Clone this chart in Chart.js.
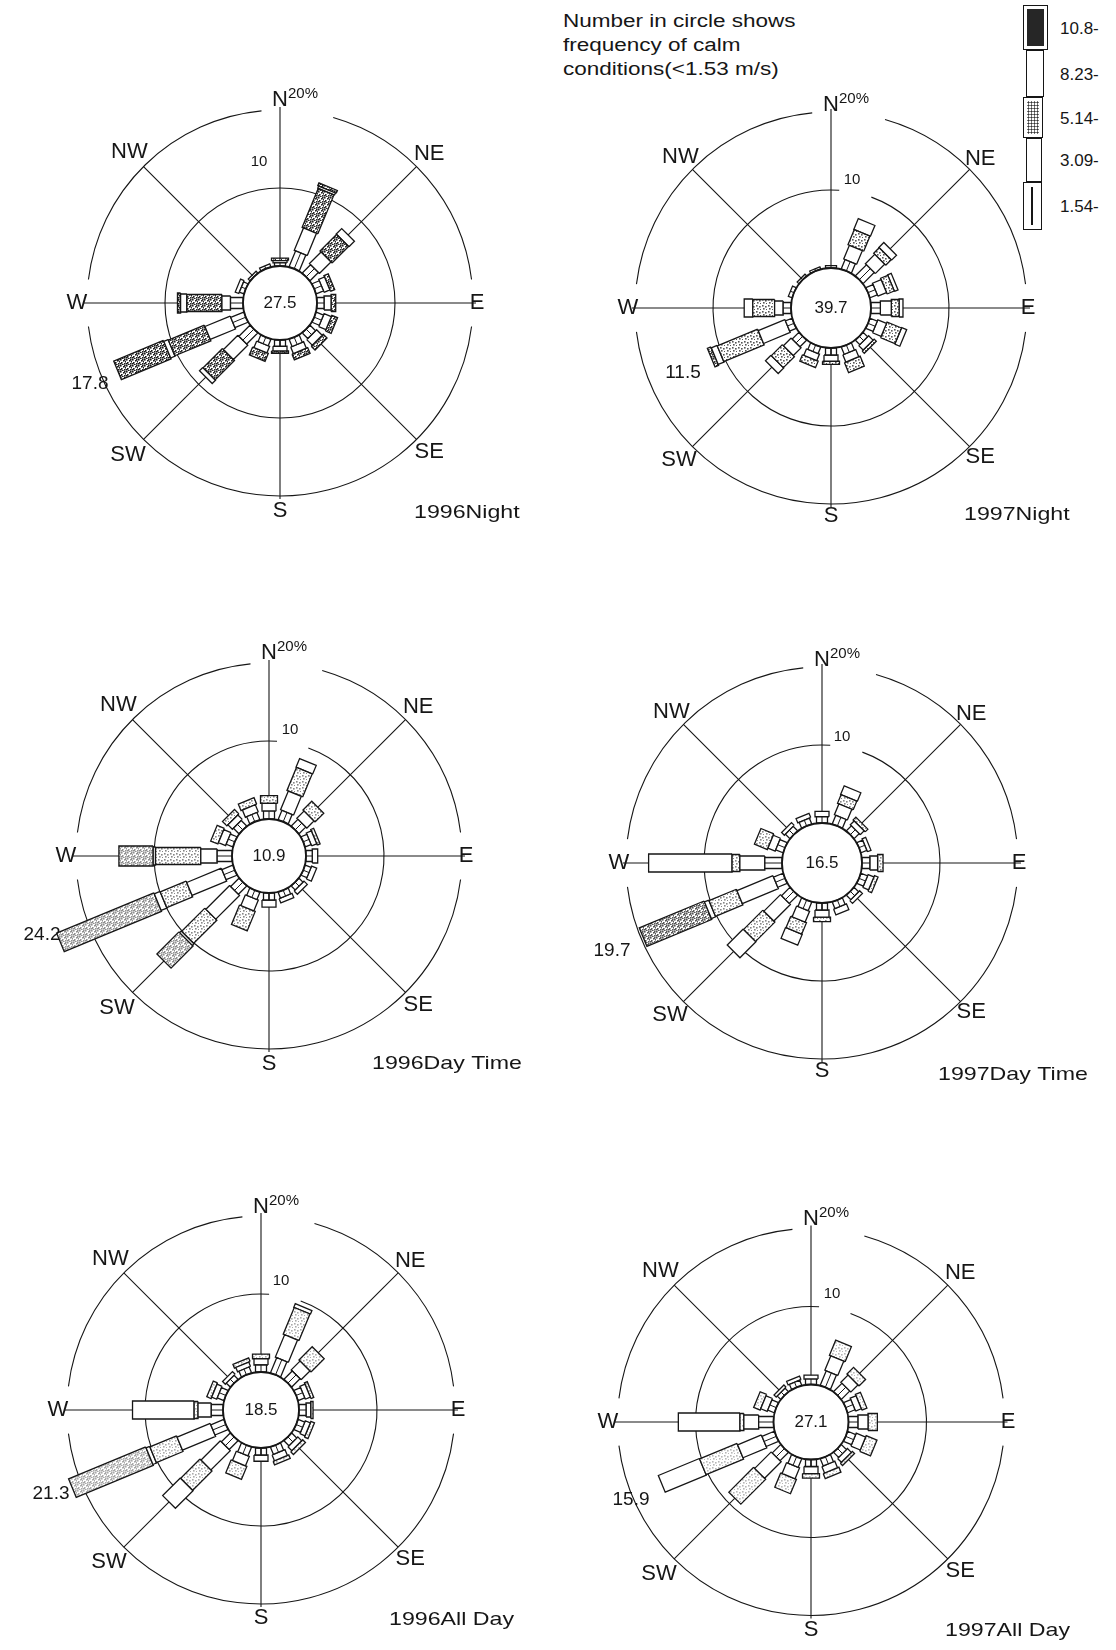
<!DOCTYPE html>
<html>
<head>
<meta charset="utf-8">
<script src="https://cdn.jsdelivr.net/npm/chart.js@4.4.0/dist/chart.umd.min.js"></script>
<style>
  body { margin: 0; width: 1116px; height: 1650px; overflow: hidden; background: #fff; position: relative;
         font-family: "Liberation Sans", Arial, sans-serif; color: #161616; }
  canvas.rose { position: absolute; }
  #note { position: absolute; left: 563px; top: 9px; font-size: 18px; line-height: 24px;
          transform: scaleX(1.25); transform-origin: 0 0; white-space: nowrap; }
  .lgbox { position: absolute; border: 1.5px solid #161616; box-sizing: border-box; background: #fff; }
  .lgtext { position: absolute; left: 1060px; font-size: 17px; line-height: 17px; }
</style>
</head>
<body>
<div id="note">Number in circle shows<br>frequency of calm<br>conditions(&lt;1.53 m/s)</div>
<div id="legend"></div>
<canvas class="rose" id="r0" width="560" height="560"></canvas>
<canvas class="rose" id="r1" width="560" height="560"></canvas>
<canvas class="rose" id="r2" width="560" height="560"></canvas>
<canvas class="rose" id="r3" width="560" height="560"></canvas>
<canvas class="rose" id="r4" width="560" height="560"></canvas>
<canvas class="rose" id="r5" width="560" height="560"></canvas>
<script>
// ---- data ----
var directions = ["N","NNE","NE","ENE","E","ESE","SE","SSE","S","SSW","SW","WSW","W","WNW","NW","NNW"];
var speedClasses = ["1.54-", "3.09-", "5.14-", "8.23-", "10.8-"];
var roseTitles = ["1996Night", "1997Night", "1996Day Time", "1997Day Time", "1996All Day", "1997All Day"];
var calmFreq = [27.5, 39.7, 10.9, 16.5, 18.5, 27.1];
var ringValues = [10, 20];
var compassLabels = ["N", "NE", "E", "SE", "S", "SW", "W", "NW"];

// frequency (%) by direction, columns = speed classes 1.54- .. 10.8-
var night1996 = [
  [0.4,0.3,0.3,0,0], [2.2,3.1,5.4,0.3,0.4], [1.5,2.1,3.0,1.0,0], [1.0,0.8,0.6,0,0],
  [0.9,0.9,0.6,0,0], [1.0,1.0,0.8,0,0], [1.0,1.0,0.7,0,0], [1.0,0.9,0.8,0,0],
  [0.8,0.6,0.3,0,0], [0.9,0.9,1.1,0,0], [2.0,2.6,3.5,0.6,0], [1.8,3.5,5.0,0.6,6.9],
  [1.6,1.1,4.5,0.8,0.4], [0.6,0.5,0,0,0], [0.3,0,0,0,0], [0.4,0,0,0,0]
];
var night1997 = [
  [0.3,0,0,0,0], [1.3,1.9,2.1,1.5,0], [2.0,1.7,1.0,0.9,0], [1.0,1.2,1.0,0.5,0],
  [1.2,1.4,1.0,0.5,0], [1.0,1.2,2.0,0.7,0], [0.8,0.8,0.4,0,0], [1.0,1.0,1.4,0,0],
  [0.9,0.8,0.4,0,0], [0.9,0.9,0.9,0,0], [1.2,1.4,2.0,1.0,0], [0.9,3.7,5.6,0.8,0.5],
  [1.0,1.1,2.8,1.1,0], [0.5,0,0,0,0], [0.3,0,0,0,0], [0.3,0,0,0,0]
];
var day1996 = [
  [1.0,1.0,1.0,0,0], [1.3,2.6,3.2,1.2,0], [1.2,1.3,1.6,0,0], [0.8,0.7,0.4,0,0],
  [0.8,0.7,0,0,0], [0.8,0.7,0,0,0], [0.7,0.6,0,0,0], [0.8,0.6,0,0,0],
  [0.9,0.9,0,0,0], [1.0,1.5,2.7,0,0], [1.5,4.3,4.2,0.3,4.0], [1.5,4.8,3.6,0.8,13.5],
  [1.9,2.1,5.8,0.3,4.4], [0.9,1.0,1.0,0,0], [1.0,0.8,0.8,0,0], [1.0,1.0,0.9,0,0]
];
var day1997 = [
  [0.8,0.7,0,0,0], [1.2,1.5,1.2,1.2,0], [0.9,0.7,0.5,0,0], [0.8,0.5,0,0,0],
  [1.0,1.0,0.7,0,0], [0.9,0.8,0.5,0,0], [0.8,0.5,0,0,0], [0.9,0.8,0,0,0],
  [0.9,0.9,0.6,0,0], [1.2,1.5,1.6,1.5,0], [1.5,3.0,3.5,2.9,0], [1.3,5.0,3.8,0.6,9.0],
  [2.2,3.2,1.0,10.7,0], [1.0,1.0,1.8,0,0], [0.8,0.5,0,0,0], [0.8,0.6,0,0,0]
];
var allDay1996 = [
  [0.9,0.8,0.6,0,0], [2.1,3.1,3.7,0.5,0], [1.5,1.6,2.4,0,0], [0.9,0.7,0.4,0,0],
  [0.9,0.6,0.3,0,0], [0.9,0.7,0.5,0,0], [0.9,0.7,0.5,0,0], [1.0,0.8,0.5,0,0],
  [0.9,0.8,0,0,0], [1.2,1.3,1.8,0,0], [1.6,3.5,3.5,3.2,0], [1.8,4.6,3.7,0.5,10.7],
  [1.5,1.7,0.5,7.9,0], [0.9,0.7,0.6,0,0], [0.7,0.5,0,0,0], [0.8,0.6,0.5,0,0]
];
var allDay1997 = [
  [0.7,0.5,0,0,0], [2.0,2.0,2.1,0,0], [1.5,1.3,1.2,0,0], [1.0,0.8,0.7,0,0],
  [1.2,1.3,1.2,0,0], [1.1,1.3,1.5,0,0], [0.9,0.7,0.4,0,0], [1.0,0.9,0.7,0,0],
  [0.9,0.9,0.6,0,0], [1.2,1.5,2.0,0,0], [1.5,3.0,4.5,0,0], [1.7,3.3,5.2,5.7,0],
  [1.9,1.9,0.5,7.9,0], [0.9,0.9,0.9,0,0], [0.6,0.4,0,0,0], [0.7,0.5,0,0,0]
];
var roseData = [night1996, night1997, day1996, day1997, allDay1996, allDay1997];

// ---- layout / style ----
var INK = '#161616';
var FONT = '"Liberation Sans", Arial, sans-serif';
var PX_PER_PCT = 7.8;
var HALF = 280;
var roseCenters = [[280,303],[831,308],[269,856],[822,863],[261,1410],[811,1422]];
var calmRadiusPx = [37,40,37,40,38,37.5];
var classWidthPx = [11,14,17,18,20];
var labelRadius = [203,211,197,211,208,215,203,213];
var tenPos = [[-21,-141],[21,-128],[21,-126],[20,-126],[20,-129],[21,-128]];
var peakPos = [[-190,81],[-148,65],[-227,79],[-210,88],[-210,84],[-180,78]];
var titlePos = [[134,210],[133,207],[103,208],[116,212],[128,210],[134,209]];
var TITLE_STRETCH = 1.22;
var innerGaps = [[], [[4,20]], [[4,20]], [[4,20]], [[4,20]], [[4,20]]];
var outerGaps = [[-5.5,16],[83,97],[263,277]];
var ink3 = [0.9,0.7,0.5,0.5,0.35,0.3];
var dense3 = [true,false,false,false,false,false];
var ink5 = [0.95,0.85,0.45,0.7,0.35,0.3];

function stipple(ink, dense) {
  var c = document.createElement('canvas');
  c.width = 6; c.height = 6;
  var x = c.getContext('2d');
  x.fillStyle = '#fff'; x.fillRect(0, 0, 6, 6);
  x.fillStyle = 'rgba(15,15,15,' + ink + ')';
  var dots = dense ? [[0,0],[3,1],[1,3],[4,4],[2,5],[5,2],[0,4],[4,0]] : [[1,1],[4,2],[2,4],[5,5]];
  dots.forEach(function (d) { x.fillRect(d[0], d[1], 1.6, 1.6); });
  return x.createPattern(c, 'repeat');
}

function rectangle(deg, a, b, h) {
  var t = deg * Math.PI / 180, s = Math.sin(t), c = Math.cos(t);
  return [
    {x: a*s + h*c, y: a*c - h*s}, {x: b*s + h*c, y: b*c - h*s},
    {x: b*s - h*c, y: b*c + h*s}, {x: a*s - h*c, y: a*c + h*s},
    {x: a*s + h*c, y: a*c - h*s}, {x: null, y: null}
  ];
}

function barDatasets(ri) {
  var rows = roseData[ri];
  var base = calmRadiusPx[ri] / PX_PER_PCT;
  var sets = [];
  for (var j = 0; j < speedClasses.length; j++) {
    var pts = [];
    var h = classWidthPx[j] / 2 / PX_PER_PCT;
    rows.forEach(function (row, i) {
      if (!row[j]) return;
      var a = base;
      for (var m = 0; m < j; m++) a += row[m];
      pts = pts.concat(rectangle(i * 22.5, a, a + row[j], h));
    });
    var bg = '#fff';
    if (j === 2) bg = stipple(ink3[ri], dense3[ri]);
    if (j === 4) bg = stipple(ink5[ri], true);
    sets.push({ label: speedClasses[j], data: pts, showLine: true, fill: 'shape',
      backgroundColor: bg, borderColor: INK, borderWidth: 1.3, pointRadius: 0, tension: 0 });
  }
  // centre line of the lowest speed class
  var line = [];
  rows.forEach(function (row, i) {
    if (!row[0]) return;
    var t = i * 22.5 * Math.PI / 180, s = Math.sin(t), c = Math.cos(t);
    line.push({x: base*s, y: base*c}, {x: (base+row[0])*s, y: (base+row[0])*c}, {x: null, y: null});
  });
  sets.unshift({ label: speedClasses[0] + ' axis', data: line, showLine: true, fill: false,
    borderColor: INK, borderWidth: 1, pointRadius: 0 });
  return sets;
}

function geometry(chart, ri) {
  var sx = chart.scales.x, sy = chart.scales.y;
  var cx = sx.getPixelForValue(0), cy = sy.getPixelForValue(0);
  var k = sx.getPixelForValue(1) - cx;
  var c0 = calmRadiusPx[ri] / PX_PER_PCT;
  return { cx: cx, cy: cy, k: k, rCalm: c0 * k, r: function (v) { return (c0 + v) * k; } };
}

function ring(ctx, g, r, gaps) {
  var toRad = function (d) { return (d - 90) * Math.PI / 180; };
  ctx.beginPath();
  if (!gaps.length) {
    ctx.arc(g.cx, g.cy, r, 0, 2 * Math.PI);
  } else {
    var gs = gaps.slice().sort(function (p, q) { return p[0] - q[0]; });
    for (var i = 0; i < gs.length; i++) {
      var from = gs[i][1];
      var to = i + 1 < gs.length ? gs[i + 1][0] : gs[0][0] + 360;
      ctx.moveTo(g.cx + r * Math.cos(toRad(from)), g.cy + r * Math.sin(toRad(from)));
      ctx.arc(g.cx, g.cy, r, toRad(from), toRad(to));
    }
  }
  ctx.stroke();
}

var roseGrid = {
  id: 'roseGrid',
  beforeDatasetsDraw: function (chart, args, o) {
    var ri = o.index, ctx = chart.ctx, g = geometry(chart, ri);
    ctx.save();
    ctx.strokeStyle = INK; ctx.lineWidth = 1.1;
    for (var d = 0; d < 360; d += 45) {
      var t = d * Math.PI / 180, r2 = g.r(ringValues[1]) + (d % 90 === 0 ? 3 : 0);
      ctx.beginPath();
      ctx.moveTo(g.cx + g.rCalm * Math.sin(t), g.cy - g.rCalm * Math.cos(t));
      ctx.lineTo(g.cx + r2 * Math.sin(t), g.cy - r2 * Math.cos(t));
      ctx.stroke();
    }
    ring(ctx, g, g.r(ringValues[0]), innerGaps[ri]);
    ring(ctx, g, g.r(ringValues[1]), outerGaps);
    ctx.restore();
  },
  afterDatasetsDraw: function (chart, args, o) {
    var ri = o.index, ctx = chart.ctx, g = geometry(chart, ri);
    ctx.save();
    ctx.strokeStyle = INK; ctx.lineWidth = 1.8;
    ctx.beginPath(); ctx.arc(g.cx, g.cy, g.rCalm, 0, 2 * Math.PI); ctx.stroke();
    ctx.fillStyle = INK; ctx.textAlign = 'center'; ctx.textBaseline = 'middle';
    ctx.font = '17px ' + FONT;
    ctx.fillText(calmFreq[ri].toFixed(1), g.cx, g.cy);
    ctx.font = '22px ' + FONT;
    compassLabels.forEach(function (lab, i) {
      var t = i * 45 * Math.PI / 180, r = labelRadius[i];
      ctx.fillText(lab, g.cx + r * Math.sin(t), g.cy - r * Math.cos(t));
    });
    var nW = ctx.measureText('N').width;
    ctx.font = '15px ' + FONT; ctx.textAlign = 'left';
    ctx.fillText(ringValues[1] + '%', g.cx + nW / 2, g.cy - labelRadius[0] - 6);
    ctx.textAlign = 'center';
    ctx.fillText(String(ringValues[0]), g.cx + tenPos[ri][0], g.cy + tenPos[ri][1]);
    var peak = 0;
    roseData[ri].forEach(function (row) {
      var s = row.reduce(function (p, q) { return p + q; }, 0);
      if (s > peak) peak = s;
    });
    ctx.font = '19px ' + FONT;
    ctx.fillText((Math.round(peak * 10) / 10).toFixed(1), g.cx + peakPos[ri][0], g.cy + peakPos[ri][1]);
    // title, printed in the same wide face as the note
    ctx.translate(g.cx + titlePos[ri][0], g.cy + titlePos[ri][1]);
    ctx.scale(TITLE_STRETCH, 1);
    ctx.textAlign = 'left';
    ctx.fillText(roseTitles[ri], 0, 0);
    ctx.restore();
  }
};

roseData.forEach(function (rows, ri) {
  var cv = document.getElementById('r' + ri);
  cv.style.left = (roseCenters[ri][0] - HALF) + 'px';
  cv.style.top = (roseCenters[ri][1] - HALF) + 'px';
  var lim = HALF / PX_PER_PCT;
  new Chart(cv, {
    type: 'scatter',
    data: { datasets: barDatasets(ri) },
    options: {
      responsive: false, animation: false, devicePixelRatio: 1, events: [],
      layout: { padding: 0 },
      scales: {
        x: { type: 'linear', min: -lim, max: lim, display: false },
        y: { type: 'linear', min: -lim, max: lim, display: false }
      },
      plugins: { legend: { display: false }, tooltip: { enabled: false }, roseGrid: { index: ri } }
    },
    plugins: [roseGrid]
  });
});

// speed class legend (top right)
var legendBoxes = [
  { top: 182, h: 48, left: 1023, w: 19, bg: '#fff' },
  { top: 138, h: 44, left: 1026, w: 16, bg: '#fff' },
  { top: 97,  h: 41, left: 1023, w: 20, bg: 'radial-gradient(#333 0.9px, transparent 1.2px) 0 0/3px 3px, #fff' },
  { top: 50,  h: 47, left: 1026, w: 18, bg: '#fff' },
  { top: 5,   h: 45, left: 1023, w: 25, bg: '#262626' }
];
var lg = document.getElementById('legend');
speedClasses.forEach(function (lab, j) {
  var b = legendBoxes[j];
  var d = document.createElement('div');
  d.className = 'lgbox';
  d.style.cssText = 'top:' + b.top + 'px;height:' + b.h + 'px;left:' + b.left + 'px;width:' + b.w + 'px;background:' + b.bg +
    ';box-shadow: inset 0 0 0 ' + (j === 4 || j === 2 ? 3 : 0) + 'px #fff';
  if (j === 0) {
    var ln = document.createElement('div');
    ln.style.cssText = 'position:absolute;left:7px;width:2px;top:4px;bottom:4px;background:#161616';
    d.appendChild(ln);
  }
  lg.appendChild(d);
  var t = document.createElement('div');
  t.className = 'lgtext';
  t.style.top = (b.top + b.h / 2 - 8) + 'px';
  t.textContent = lab;
  lg.appendChild(t);
});
</script>
</body>
</html>
